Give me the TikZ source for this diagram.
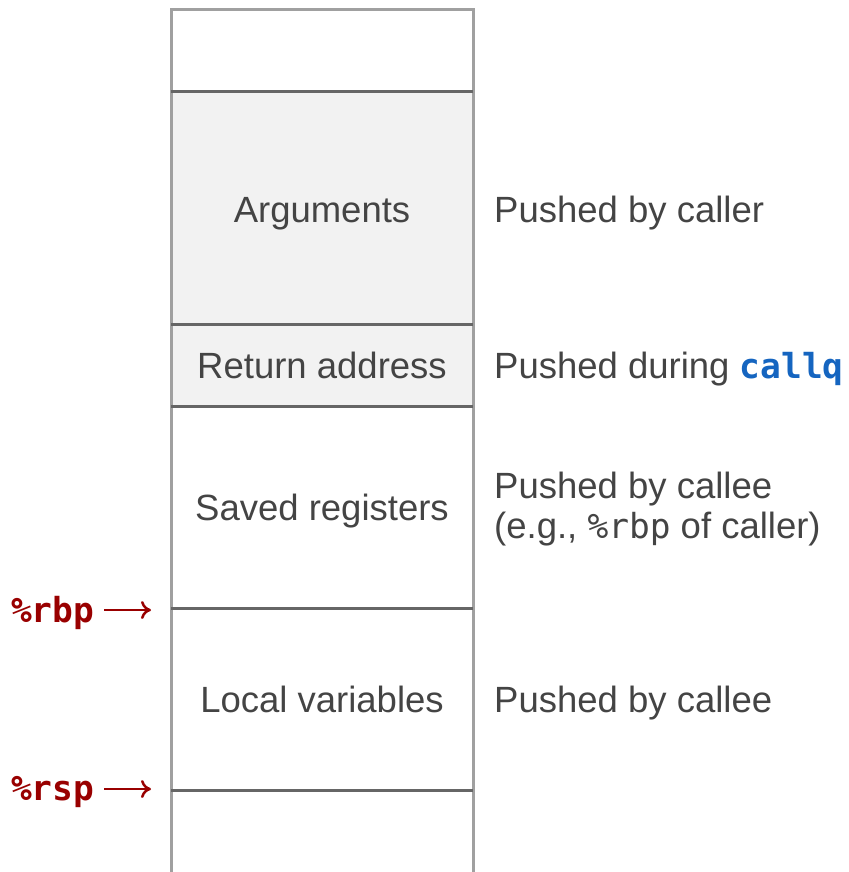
\documentclass[tikz,border=0pt]{standalone}
\usepackage{fontspec}
\setmainfont{Liberation Sans}
\setmonofont{DejaVu Sans Mono}
\usetikzlibrary{arrows.meta}

\definecolor{framegray}{HTML}{A0A0A0}
\definecolor{divgray}{HTML}{666666}
\definecolor{cellgray}{HTML}{F2F2F2}
\definecolor{textgray}{HTML}{444444}
\definecolor{regred}{HTML}{990000}
\definecolor{instrblue}{HTML}{1565C0}

\tikzset{
	frame/.style={draw=framegray, line width=3pt},
	divider/.style={draw=divgray, line width=3pt},
	celltext/.style={anchor=base, inner sep=0pt, text=textgray},
	notetext/.style={anchor=base west, inner sep=0pt, text=textgray},
	reglabel/.style={anchor=base west, inner sep=0pt, text=regred, font=\fontsize{34.5}{40}\selectfont\ttfamily\bfseries},
	regarrow/.style={draw=regred, line width=2.5pt, -{To[length=10pt, width=18pt]}}
}

\begin{document}
\begin{tikzpicture}[x=1pt, y=-1pt, font=\fontsize{36.5}{42}\selectfont]
	\useasboundingbox (0,0) rectangle (848,872);

	% Shaded cells of the stack
	\fill[cellgray] (171,92) rectangle (473,406);

	% Outer frame, open at the bottom
	\draw[frame] (171,872) -- (171,9.5) -- (473,9.5) -- (473,872);

	% Dividers between the cells
	\foreach \y in {92,324,406,608,790}
		\draw[divider] (171,\y) -- (473,\y);

	% Cell labels
	\node[celltext] (args) at (322,222) {Arguments};
	\node[celltext] (retaddr) at (322,378) {Return address};
	\node[celltext] (saved) at (322,520) {Saved registers};
	\node[celltext] (locals) at (322,712) {Local variables};

	% Notes on the right
	\node[notetext] (argsnote) at (494,222) {Pushed by caller};
	\node[notetext] (retnote) at (494,378) {Pushed during {\color{instrblue}\fontsize{34.5}{40}\selectfont\ttfamily\bfseries callq}};
	\node[notetext] (savednote) at (494,498) {Pushed by callee};
	\node[notetext] (savednote2) at (494,538) {(e.g., {\fontsize{34.5}{40}\selectfont\ttfamily\%rbp} of caller)};
	\node[notetext] (localsnote) at (494,712) {Pushed by callee};

	% Register pointers
	\node[reglabel] (rbp) at (11,622) {\%rbp};
	\node[reglabel] (rsp) at (11,800) {\%rsp};
	\coordinate (rbptip) at (151,610);
	\coordinate (rsptip) at (151,789);
	\draw[regarrow] (rbp.east |- rbptip) ++(10,0) -- (rbptip);
	\draw[regarrow] (rsp.east |- rsptip) ++(10,0) -- (rsptip);
\end{tikzpicture}
\end{document}
